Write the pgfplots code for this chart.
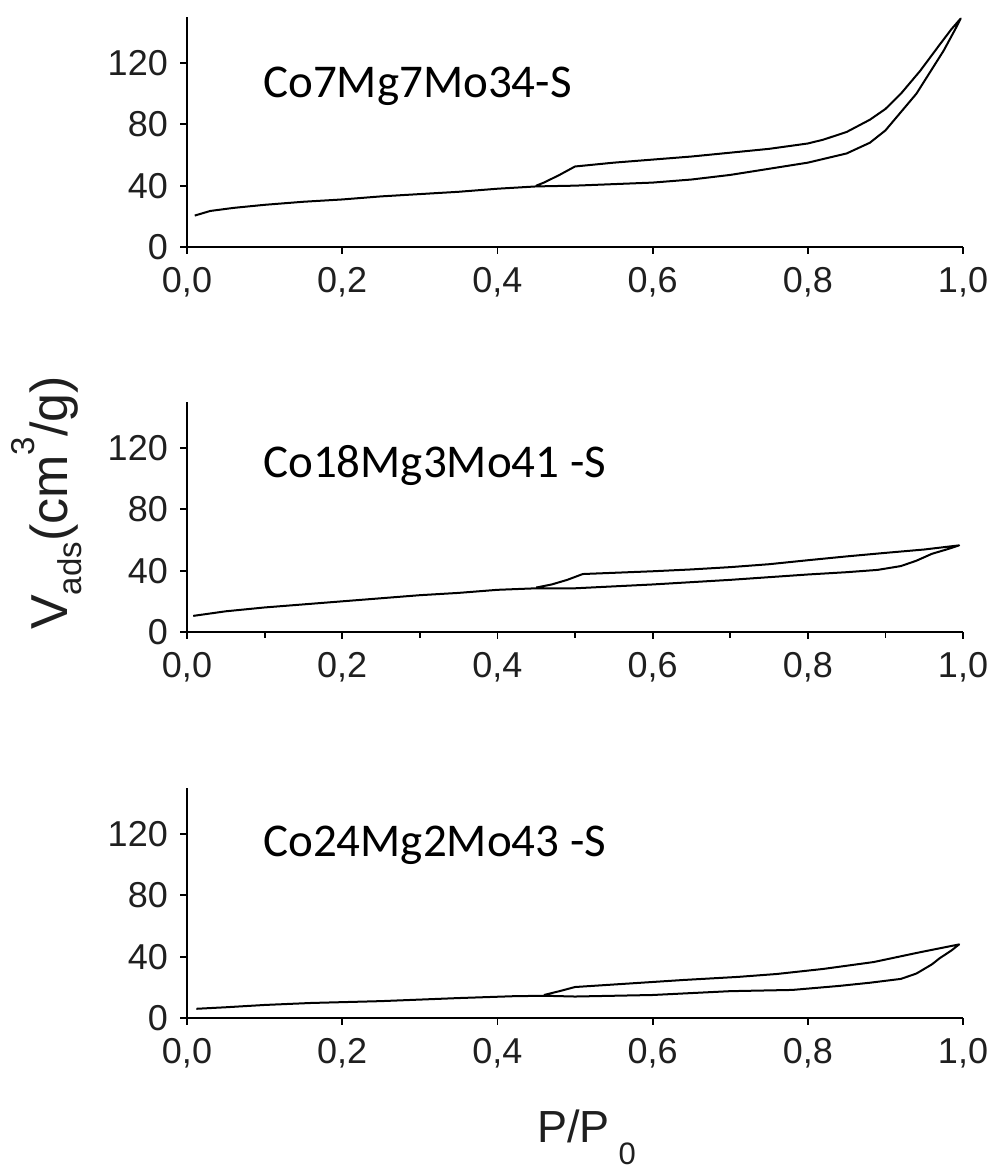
\documentclass[border=0pt]{standalone}
\usepackage{fontspec}
\setmainfont{Liberation Sans}
\newfontfamily\calib{Carlito}
\usepackage{pgfplots}
\pgfplotsset{compat=1.18}
\pgfplotsset{
  panel/.style={
    scale only axis, width=776pt, height=230pt,
    xmin=0, xmax=1, ymin=0, ymax=150,
    axis x line*=bottom, axis y line*=left,
    axis line style={line width=1.8pt, -},
    xtick={0,0.2,0.4,0.6,0.8,1.0},
    xticklabels={{0,0},{0,2},{0,4},{0,6},{0,8},{1,0}},
    ytick={0,40,80,120},
    yticklabels={0,40,80,120},
    tick align=outside, major tick length=7pt, minor tick length=6pt,
    tick style={line width=1.8pt, black},
    ticklabel style={font=\fontsize{36}{36}\selectfont, text=black!88},
    xticklabel style={anchor=north, inner sep=0pt, yshift=-13pt},
    yticklabel style={anchor=east, inner sep=0pt, xshift=-12pt},
    clip=false,
  },
  curve/.style={black, line width=2pt, line join=round, no marks},
}
\tikzset{ann/.style={anchor=base west, font=\calib\fontsize{47}{47}\selectfont, inner sep=0pt}}
\begin{document}
\begin{tikzpicture}[x=1pt,y=1pt]
\useasboundingbox (0,0) rectangle (999,1173);

% Panel 1
\begin{axis}[panel, at={(187pt,926pt)}, anchor=south west]
\addplot[curve] coordinates {
(0.010,20.5) (0.03,23.5) (0.06,25.5) (0.10,27.5) (0.15,29.5) (0.20,31) (0.25,33)
(0.30,34.5) (0.35,36) (0.40,38) (0.45,39.5) (0.50,40) (0.55,41) (0.60,42)
(0.65,44) (0.70,47) (0.75,51) (0.80,55) (0.85,61) (0.88,68) (0.90,76)
(0.92,88) (0.94,100) (0.96,116) (0.975,128) (0.99,142) (0.997,149)
(0.985,142) (0.97,132) (0.945,115) (0.92,100) (0.90,90) (0.88,83) (0.85,75)
(0.82,70) (0.80,67.5) (0.75,64) (0.70,61.5) (0.65,59) (0.60,57) (0.55,55)
(0.50,52.5) (0.48,47) (0.46,42) (0.45,40)
};
\node[ann] at (axis cs:0.098,97.8) {Co7Mg7Mo34-S};
\end{axis}

% Panel 2
\begin{axis}[panel, at={(187pt,541pt)}, anchor=south west, minor x tick num=1]
\addplot[curve] coordinates {
(0.008,10.5) (0.05,13.5) (0.10,16) (0.15,18) (0.20,20) (0.25,22) (0.30,24)
(0.35,25.5) (0.40,27.5) (0.45,28.5) (0.50,28.5) (0.56,30) (0.60,31) (0.70,34)
(0.80,37.5) (0.85,39) (0.89,40.5) (0.92,43) (0.94,46.5) (0.96,51) (0.98,54)
(0.995,56.5)
(0.95,53.8) (0.90,51.6) (0.85,49.3) (0.80,46.8) (0.75,44.2) (0.70,42.3)
(0.65,40.8) (0.60,39.6) (0.55,38.6) (0.51,37.8) (0.49,34) (0.47,31) (0.45,29)
};
\node[ann] at (axis cs:0.098,100.5) {Co18Mg3Mo41 -S};
\end{axis}

% Panel 3
\begin{axis}[panel, at={(187pt,155pt)}, anchor=south west]
\addplot[curve] coordinates {
(0.012,6) (0.05,7) (0.10,8.5) (0.16,9.8) (0.25,11) (0.35,13) (0.42,14.2)
(0.46,14.5) (0.50,14) (0.60,15) (0.70,17.5) (0.78,18.3) (0.84,20.9) (0.88,23)
(0.92,25.5) (0.94,29) (0.96,35) (0.97,39) (0.985,44) (0.995,48)
(0.94,42.4) (0.885,36.5) (0.82,32) (0.76,28.7) (0.71,26.8) (0.64,24.8)
(0.57,22.5) (0.50,20.2) (0.48,17.5) (0.46,15)
};
\node[ann] at (axis cs:0.098,105) {Co24Mg2Mo43 -S};
\end{axis}

% Axis titles
\node[rotate=90, font=\fontsize{52}{52}\selectfont, inner sep=0pt, text=black!88] at (47,670)
  {V\raisebox{-0.28em}{\fontsize{33}{33}\selectfont ads}(cm\raisebox{0.62em}{\fontsize{33}{33}\selectfont 3}/g)};
\node[anchor=base west, font=\fontsize{45}{45}\selectfont, inner sep=0pt, text=black!88] at (537,30)
  {P/P\hspace{9pt}\raisebox{-22pt}{\fontsize{31}{31}\selectfont 0}};
\end{tikzpicture}
\end{document}
